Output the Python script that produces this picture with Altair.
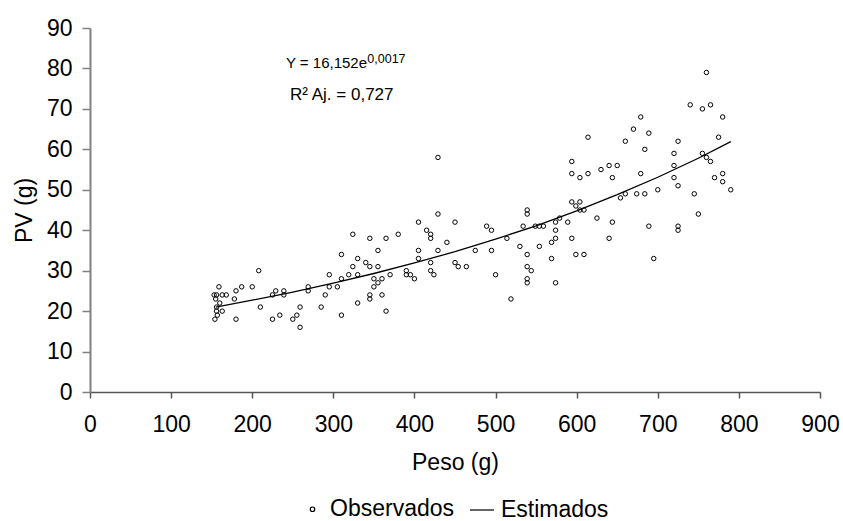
import altair as alt
import pandas as pd

obs_peso = [153, 156, 159, 163, 168, 155, 160, 156, 156, 163, 157, 154, 178, 180, 187, 180,
            200, 208, 210, 225, 225, 229, 234, 239, 239, 250, 255, 259, 259, 269, 269, 285,
            290, 295, 295, 305,
            310, 310, 310, 319, 324, 324, 330, 330, 330, 340, 345, 345, 345, 345, 350, 350,
            355, 355, 355, 360, 360, 365, 365, 370, 380, 390, 390, 395, 400, 405, 405, 405,
            415, 420, 420, 420, 420, 424, 429, 429, 429, 440, 450, 450, 454, 464, 475, 489,
            495, 495, 500, 514, 519, 530, 534, 539, 539, 539, 539, 539, 539, 544, 549, 554,
            559, 554, 569, 569, 574, 574, 574, 574, 579, 589, 594, 594, 594, 594, 599, 599,
            604, 604, 604, 609, 609, 614, 614,
            630, 640, 650, 644, 625, 644, 640, 654, 660, 660, 670, 679, 689, 684, 679, 674,
            684, 689, 695, 700, 720, 725, 720, 720, 725, 725, 725, 740, 745, 750, 755, 760,
            765, 755, 760, 765, 770, 780, 775, 780, 780, 790]
obs_pv = [24, 24, 26, 24, 24, 23, 22, 21, 20, 20, 19, 18, 23, 25, 26, 18,
          26, 30, 21, 18, 24, 25, 19, 25, 24, 18, 19, 21, 16, 26, 25, 21,
          24, 29, 26, 26,
          28, 34, 19, 29, 31, 39, 33, 29, 22, 32, 31, 38, 24, 23, 28, 26,
          35, 31, 27, 28, 24, 38, 20, 29, 39, 30, 29, 29, 28, 42, 35, 33,
          40, 39, 38, 32, 30, 29, 58, 44, 35, 37, 42, 32, 31, 31, 35, 41,
          40, 35, 29, 38, 23, 36, 41, 45, 44, 34, 31, 28, 27, 30, 41, 41,
          41, 36, 37, 33, 42, 40, 38, 27, 43, 42, 57, 54, 47, 38, 46, 34,
          53, 47, 45, 45, 34, 63, 54,
          55, 56, 56, 53, 43, 42, 38, 48, 49, 62, 65, 68, 64, 60, 54, 49,
          49, 41, 33, 50, 59, 62, 56, 53, 51, 41, 40, 71, 49, 44, 70, 79,
          71, 59, 58, 57, 53, 68, 63, 54, 52, 50]

# Estimated curve
est_peso = [155, 200, 250, 300, 350, 400, 450, 500, 550, 600, 650, 700, 750, 790]
est_pv = [21.0, 22.7, 24.7, 26.9, 29.3, 31.9, 34.7, 37.8, 41.1, 44.8, 48.8, 53.1, 57.8, 61.9]

series_names = ["Observados", "Estimados"]

# Annotation texts
eq_main = ["Y = 16,152e"]
eq_sup = ["0,0017"]
eq_r2 = ["R² Aj. = 0,727"]

FONT = "Liberation Sans"

obs = pd.DataFrame({"peso": obs_peso, "pv": obs_pv, "serie": series_names[0]})
est = pd.DataFrame({"peso": est_peso, "pv": est_pv, "serie": series_names[1]})

xscale = alt.Scale(domain=[0, 900], nice=False, zero=True)
yscale = alt.Scale(domain=[0, 90], nice=False, zero=True)

x_axis = alt.Axis(values=list(range(0, 901, 100)), title="Peso (g)", grid=False,
                  domainColor="#555555", domainWidth=1.5, tickColor="#555555",
                  tickWidth=1.5, tickSize=6, labelFontSize=23, labelFont=FONT,
                  labelColor="black", labelPadding=15, titleFontSize=23,
                  titleFont=FONT, titleFontWeight="normal", titleColor="black",
                  titlePadding=15, labelFlush=False)
y_axis = alt.Axis(values=list(range(0, 91, 10)), title="PV (g)", grid=False,
                  domainColor="#808080", domainWidth=2, tickColor="#808080",
                  tickWidth=1.5, tickSize=8, labelFontSize=23, labelFont=FONT,
                  labelColor="black", labelPadding=10, titleFontSize=23,
                  titleFont=FONT, titleFontWeight="normal", titleColor="black",
                  titlePadding=10, labelFlush=False)

points = alt.Chart(obs).mark_point(filled=False, color="black", strokeWidth=1, opacity=1).encode(
    x=alt.X("peso:Q", scale=xscale, axis=x_axis),
    y=alt.Y("pv:Q", scale=yscale, axis=y_axis),
    shape=alt.Shape("serie:N", scale=alt.Scale(domain=series_names, range=["circle", "stroke"]),
                    legend=alt.Legend(title=None, orient="none", legendX=211, legendY=469,
                                      direction="horizontal", labelFontSize=23, labelFont=FONT,
                                      labelColor="black", labelOffset=6, columnPadding=12,
                                      padding=0, symbolStrokeWidth=1.2, symbolStrokeColor="black")),
    size=alt.Size("serie:N", scale=alt.Scale(domain=series_names, range=[20, 576])),
)

line = alt.Chart(est).mark_line(color="black", strokeWidth=1.3).encode(
    x=alt.X("peso:Q", scale=xscale),
    y=alt.Y("pv:Q", scale=yscale),
)

t1 = alt.Chart(pd.DataFrame({"peso": [241.6], "pv": [80.0], "t": eq_main})).mark_text(
    align="left", baseline="alphabetic", fontSize=15, font=FONT, color="black").encode(
    x=alt.X("peso:Q", scale=xscale), y=alt.Y("pv:Q", scale=yscale), text="t:N")
t2 = alt.Chart(pd.DataFrame({"peso": [341.9], "pv": [81.3], "t": eq_sup})).mark_text(
    align="left", baseline="alphabetic", fontSize=12.5, font=FONT, color="black").encode(
    x=alt.X("peso:Q", scale=xscale), y=alt.Y("pv:Q", scale=yscale), text="t:N")
t3 = alt.Chart(pd.DataFrame({"peso": [246.6], "pv": [72.2], "t": eq_r2})).mark_text(
    align="left", baseline="alphabetic", fontSize=17, font=FONT, color="black").encode(
    x=alt.X("peso:Q", scale=xscale), y=alt.Y("pv:Q", scale=yscale), text="t:N")

chart = alt.layer(points, line, t1, t2, t3).properties(
    width=730, height=364,
    autosize=alt.AutoSizeParams(type="none"),
    padding={"left": 90, "top": 28, "right": 23, "bottom": 129},
    background="white",
).configure_view(stroke=None)

chart.save("out.html", embed_options={"renderer": "svg", "actions": False})
